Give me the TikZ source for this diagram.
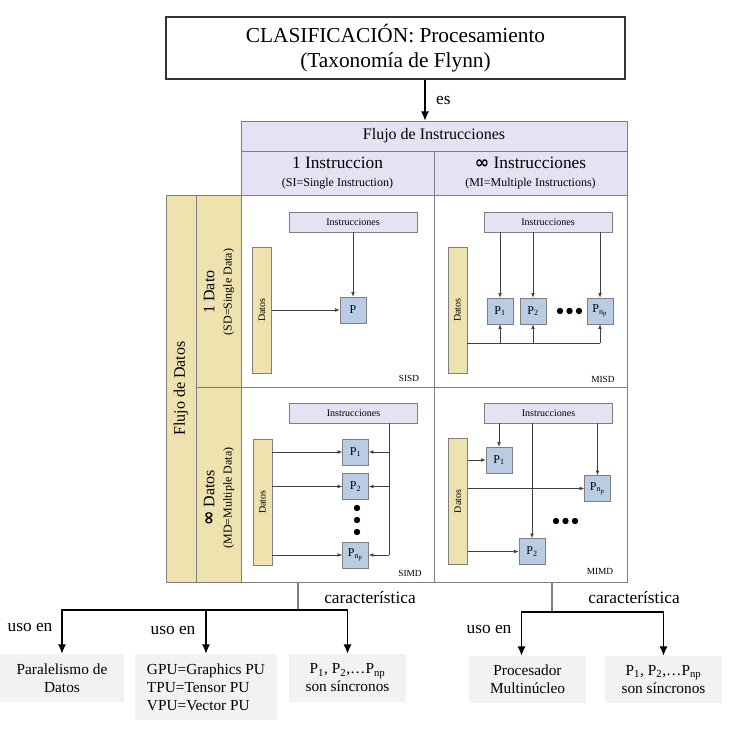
\documentclass[tikz,border=0pt]{standalone}
\usepackage{fontspec}
\setmainfont{Liberation Serif}
\newfontfamily\simbolos{DejaVu Sans}
\usepackage{graphicx}
\usetikzlibrary{arrows.meta}

\definecolor{lila}{HTML}{E6E1F3}
\definecolor{arena}{HTML}{EEE2AE}
\definecolor{celeste}{HTML}{B9CCE4}
\definecolor{grisclaro}{HTML}{F2F2F2}
\definecolor{borde}{HTML}{7F7F7F}

\newcommand{\infinito}{{\simbolos\bfseries\fontsize{13}{13}\selectfont ∞}}

\begin{document}
\begin{tikzpicture}[x=0.75pt, y=-0.75pt,
    celda/.style={draw=borde, fill=white, minimum width=144.75pt, inner sep=0pt},
    cabecera/.style={draw=borde, fill=lila, inner sep=0pt, align=center},
    lateral/.style={draw=borde, fill=arena, inner sep=0pt},
    instr/.style={draw=borde, fill=lila, minimum width=96pt, minimum height=15pt, inner sep=0pt, font=\fontsize{7.5}{9}\selectfont},
    datos/.style={draw=borde, fill=arena, minimum width=14.25pt, minimum height=94.5pt, inner sep=0pt, font=\fontsize{7.5}{9}\selectfont},
    proc/.style={draw=borde, fill=celeste, minimum size=19.5pt, inner sep=0pt, font=\fontsize{9}{10}\selectfont},
    tipo/.style={font=\fontsize{7}{8}\selectfont},
    flecha/.style={draw=black!75, line width=0.5pt, -{Latex[length=3.5pt,width=2.8pt]}},
    linea/.style={draw=black!75, line width=0.5pt},
    flechaG/.style={line width=1pt, -{Latex[length=7pt,width=6pt]}},
    resultado/.style={fill=grisclaro, inner sep=0pt, align=center, font=\fontsize{11.5}{13.5}\selectfont},
    etiqueta/.style={font=\fontsize{13}{15}\selectfont}]

    \useasboundingbox (0,0) rectangle (729,735);

    % Titulo
    \node[draw=black!80, line width=1pt, minimum width=344.25pt, minimum height=46.5pt, align=center,
          font=\fontsize{16}{19}\selectfont] (titulo) at (395.5,48)
          {CLASIFICACIÓN: Procesamiento\\(Taxonomía de Flynn)};

    % Cabecera: flujo de instrucciones
    \node[cabecera, minimum width=289.5pt, minimum height=22.5pt, font=\fontsize{12}{14}\selectfont] (flujoI) at (434,136) {Flujo de Instrucciones};
    \node[cabecera, minimum width=144.75pt, minimum height=33pt, font=\fontsize{13}{13}\selectfont] (si) at (337.5,173)
        {1 Instruccion\\{\fontsize{9}{10}\selectfont (SI=Single Instruction)}};
    \node[cabecera, minimum width=144.75pt, minimum height=33pt, font=\fontsize{13}{13}\selectfont] (mi) at (530.5,173)
        {\infinito{} Instrucciones\\{\fontsize{9}{10}\selectfont (MI=Multiple Instructions)}};

    % Flecha "es"
    \coordinate (esarr) at (425,0);
    \draw[flechaG] (titulo.south -| esarr) -- (flujoI.north -| esarr)
        node[etiqueta, midway, right, xshift=4.5pt] (es) {es};

    % Lateral: flujo de datos
    \node[lateral, minimum width=22.5pt, minimum height=290.25pt] (flujoD) at (181,388.5)
        {\rotatebox{90}{\fontsize{12}{14}\selectfont Flujo de Datos}};
    \node[lateral, minimum width=33.75pt, minimum height=144pt] (unDato) at (218.5,291) {};
    \node[lateral, minimum width=33.75pt, minimum height=146.25pt] (variosDatos) at (218.5,484.5) {};
    \node[rotate=90, align=center, font=\fontsize{12}{13}\selectfont] (tUnDato) at (219,292)
        {1 Dato\\{\fontsize{9}{10}\selectfont (SD=Single Data)}};
    \node[rotate=90, align=center, font=\fontsize{12}{13}\selectfont] (tVariosDatos) at (219,498)
        {\infinito{} Datos\\{\fontsize{9}{10}\selectfont (MD=Multiple Data)}};

    % Celdas
    \node[celda, minimum height=144pt] (sisd) at (337.5,291) {};
    \node[celda, minimum height=144pt] (misd) at (530.5,291) {};
    \node[celda, minimum height=146.25pt] (simd) at (337.5,484.5) {};
    \node[celda, minimum height=146.25pt] (mimd) at (530.5,484.5) {};

    % SISD
    \node[instr] (ins1) at (353,222) {Instrucciones};
    \node[datos] (dat1) at (262,310) {\rotatebox{90}{Datos}};
    \node[proc] (p) at (353,310) {P};
    \draw[flecha] (ins1) -- (p);
    \draw[flecha] (dat1.east |- p) -- (p.west);
    \node[tipo] (tsisd) at (409,378) {SISD};

    % MISD
    \node[instr] (ins2) at (548,222) {Instrucciones};
    \node[datos] (dat2) at (457.5,310) {\rotatebox{90}{Datos}};
    \node[proc] (p11) at (500,311) {P\textsubscript{1}};
    \node[proc] (p12) at (533,311) {P\textsubscript{2}};
    \node[proc] (p1n) at (600,311) {P\textsubscript{n\textsubscript{p}}};
    \foreach \x in {560,569.5,579} \fill (\x,311) circle (2.4pt);
    \coordinate (bus2) at (600,343);
    \draw[linea] (dat2.east |- bus2) -- (bus2);
    \foreach \p in {p11,p12,p1n}{
        \draw[flecha] (ins2.south -| \p) -- (\p.north);
        \draw[flecha] (bus2 -| \p) -- (\p.south);
    }
    \node[tipo] (tmisd) at (603,379) {MISD};

    % SIMD
    \node[instr] (ins3) at (353.5,413) {Instrucciones};
    \node[datos] (dat3) at (262.5,502) {\rotatebox{90}{Datos}};
    \node[proc] (p21) at (355.5,452) {P\textsubscript{1}};
    \node[proc] (p22) at (355.5,486.5) {P\textsubscript{2}};
    \node[proc] (p2n) at (355.5,555) {P\textsubscript{n\textsubscript{p}}};
    \foreach \y in {508,520,532} \fill (357,\y) circle (2.4pt);
    \coordinate (baja3) at (389,555);
    \draw[linea] (ins3.south -| baja3) -- (baja3);
    \foreach \p in {p21,p22,p2n}{
        \draw[flecha] (baja3 |- \p) -- (\p.east);
        \draw[flecha] (dat3.east |- \p) -- (\p.west);
    }
    \node[tipo] (tsimd) at (410,573) {SIMD};

    % MIMD
    \node[instr] (ins4) at (548.5,413) {Instrucciones};
    \node[datos] (dat4) at (458,501.5) {\rotatebox{90}{Datos}};
    \node[proc] (p31) at (499,460) {P\textsubscript{1}};
    \node[proc] (p3n) at (597.5,488.5) {P\textsubscript{n\textsubscript{p}}};
    \node[proc] (p32) at (532,551.5) {P\textsubscript{2}};
    \foreach \x in {556,565.5,575} \fill (\x,521) circle (2.4pt);
    \foreach \p in {p31,p32,p3n}{
        \draw[flecha] (ins4.south -| \p) -- (\p.north);
        \draw[flecha] (dat4.east |- \p) -- (\p.west);
    }
    \node[tipo] (tmimd) at (600,571) {MIMD};

    % Resultados
    \node[resultado, minimum width=93pt, minimum height=36pt] (b1) at (62,678) {Paralelismo de\\Datos};
    \node[resultado, minimum width=106.5pt, minimum height=49.5pt, align=left] (b2) at (206,687)
        {GPU=Graphics PU\\TPU=Tensor PU\\VPU=Vector PU};
    \node[resultado, minimum width=87.75pt, minimum height=36pt] (b3) at (347.5,678)
        {P\textsubscript{1}, P\textsubscript{2},…P\textsubscript{np}\\son síncronos};
    \node[resultado, minimum width=87.75pt, minimum height=35.25pt] (b4) at (527.5,679.5) {Procesador\\Multinúcleo};
    \node[resultado, minimum width=87.75pt, minimum height=35.25pt] (b5) at (663.5,679.5)
        {P\textsubscript{1}, P\textsubscript{2},…P\textsubscript{np}\\son síncronos};

    % Ramas inferiores
    \coordinate (ramaI) at (298,610);
    \coordinate (ramaD) at (552,612);
    \draw[draw=borde, line width=0.8pt] (simd.south -| ramaI) -- (ramaI);
    \draw[draw=borde, line width=0.8pt] (mimd.south -| ramaD) -- (ramaD);
    \draw[flechaG] (ramaI) -| (b1.north);
    \draw[flechaG] (ramaI -| b2) -- (b2.north);
    \draw[flechaG] (ramaI) -| (b3.north);
    \draw[flechaG] (ramaD) -| ([xshift=-4.5pt]b4.north);
    \draw[flechaG] (ramaD) -| (b5.north);

    \node[etiqueta] (uso1) at (30,627) {uso en};
    \node[etiqueta] (uso2) at (173,630) {uso en};
    \node[etiqueta] (carI) at (370,598) {característica};
    \node[etiqueta] (uso3) at (489,629) {uso en};
    \node[etiqueta] (carD) at (634,598) {característica};
\end{tikzpicture}
\end{document}
